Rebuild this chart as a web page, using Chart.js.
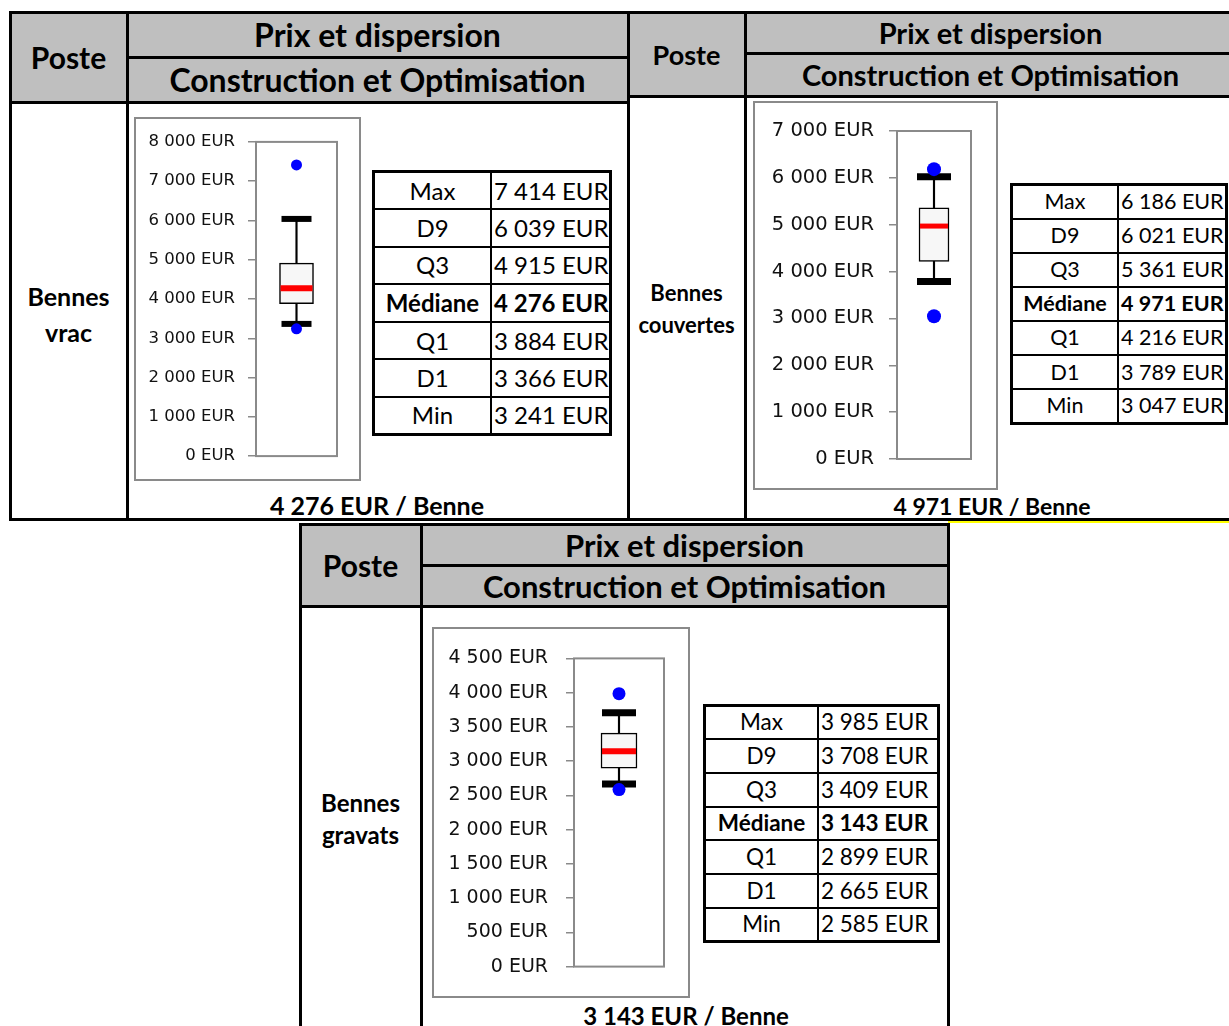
<!DOCTYPE html>
<html lang="fr">
<head>
<meta charset="utf-8">
<script src="https://cdn.jsdelivr.net/npm/chart.js@4.4.1/dist/chart.umd.min.js"></script>
<style>
  body { margin: 0; width: 1229px; height: 1026px; position: relative; overflow: hidden; background: #fff; font-family: Lato, 'Noto Sans', sans-serif; color: #000; }
  .txt { position: absolute; display: flex; align-items: center; justify-content: center; text-align: center; font-weight: bold; white-space: nowrap; }
  table.stats { position: absolute; border-collapse: collapse; table-layout: fixed; border: 3px solid #000; }
  table.stats td { border: 2px solid #000; padding: 0; line-height: 1; white-space: nowrap; overflow: hidden; }
  table.stats td:first-child { text-align: center; }
  table.stats td:last-child { text-align: left; padding-left: 2px; }
</style>
</head>
<body>
<script>
// Statistiques de prix par type de benne
const statLabels = ['Max', 'D9', 'Q3', 'Médiane', 'Q1', 'D1', 'Min'];
const posteNames = [['Bennes', 'vrac'], ['Bennes', 'couvertes'], ['Bennes', 'gravats']];
const vracValues = [7414, 6039, 4915, 4276, 3884, 3366, 3241];
const couvertesValues = [6186, 6021, 5361, 4971, 4216, 3789, 3047];
const gravatsValues = [3985, 3708, 3409, 3143, 2899, 2665, 2585];
const axisMax = [8000, 7000, 4500];
const axisStep = [1000, 1000, 500];
const headTitles = ['Poste', 'Prix et dispersion', 'Construction et Optimisation'];

// Mise en page de chaque bloc
const panels = [
  {
    l: 10, t: 12, r: 628, b: 519, colX: 127, r1: 57, r2: 102, head: [30, 32, 32],
    name: { cy: 314, size: 25, lh: 36 },
    chart: { x: 134, y: 117, w: 227, h: 364, plot: { l: 256, t: 139, r: 339, b: 459 },
             tick: 16.5, pad: 13, boxW: 34, capW: 30, capH: 6, medH: 6, dotR: 5.5 },
    table: { x: 372, y: 170, w: 240, h: 263, c1: 115, font: 24 },
    foot: { cx: 377, cy: 505, size: 25 }
  },
  {
    l: 628, t: 12, r: 1236, b: 519, colX: 745, r1: 53, r2: 96, head: [27, 29, 29],
    name: { cy: 309, size: 22, lh: 32 },
    chart: { x: 753, y: 101, w: 245, h: 389, plot: { l: 897, t: 131, r: 971, b: 459 },
             tick: 19.5, pad: 15, boxW: 30, capW: 34, capH: 7, medH: 5, dotR: 7 },
    table: { x: 1010, y: 183, w: 218, h: 239, c1: 104, font: 21.5 },
    foot: { cx: 992, cy: 506, size: 23 }
  },
  {
    l: 300, t: 524, r: 948, b: 1040, colX: 421, r1: 565, r2: 606, head: [30, 31, 31],
    name: { cy: 819, size: 24, lh: 32 },
    chart: { x: 432, y: 627, w: 258, h: 371, plot: { l: 574, t: 652, r: 665, b: 971 },
             tick: 19, pad: 18, boxW: 36, capW: 34, capH: 7, medH: 6, dotR: 6.5 },
    table: { x: 703, y: 704, w: 237, h: 236, c1: 111, font: 22.5 },
    foot: { cx: 686, cy: 1015, size: 24 }
  }
];
const panelValues = [vracValues, couvertesValues, gravatsValues];

function fmt(v) {
  return String(v).replace(/\B(?=(\d{3})+(?!\d))/g, ' ') + ' EUR';
}

function rect(x, y, w, h, css) {
  const d = document.createElement('div');
  d.style.cssText = `position:absolute;left:${x}px;top:${y}px;width:${w}px;height:${h}px;${css || ''}`;
  document.body.appendChild(d);
  return d;
}

function label(x, y, w, h, html, size, extra) {
  const d = rect(x, y, w, h, `font-size:${size}px;${extra || ''}`);
  d.className = 'txt';
  d.innerHTML = html;
  return d;
}

function hline(x1, x2, y) { rect(x1 - 1.5, y - 1.5, x2 - x1 + 3, 3, 'background:#000'); }
function vline(x, y1, y2) { rect(x - 1.5, y1 - 1.5, 3, y2 - y1 + 3, 'background:#000'); }

function drawFrame(p, i) {
  rect(p.l, p.t, p.r - p.l, p.r2 - p.t, 'background:#bfbfbf');
  hline(p.l, p.r, p.t);
  hline(p.l, p.r, p.b);
  hline(p.colX, p.r, p.r1);
  hline(p.l, p.r, p.r2);
  vline(p.l, p.t, p.b);
  vline(p.r, p.t, p.b);
  vline(p.colX, p.t, p.b);

  label(p.l, p.t, p.colX - p.l, p.r2 - p.t, headTitles[0], p.head[0]);
  label(p.colX, p.t, p.r - p.colX, p.r1 - p.t, headTitles[1], p.head[1]);
  label(p.colX, p.r1, p.r - p.colX, p.r2 - p.r1, headTitles[2], p.head[2]);

  const n = p.name;
  label(p.l, n.cy - n.lh, p.colX - p.l, n.lh * 2, posteNames[i].join('<br>'), n.size, `line-height:${n.lh}px`);

  const med = panelValues[i][3];
  label(p.foot.cx - 200, p.foot.cy - 16, 400, 32, fmt(med) + ' / Benne', p.foot.size);
}

function drawTable(t, values) {
  const table = document.createElement('table');
  table.className = 'stats';
  table.style.cssText = `left:${t.x}px;top:${t.y}px;width:${t.w}px;height:${t.h}px;font-size:${t.font}px`;
  statLabels.forEach((lab, k) => {
    const tr = table.insertRow();
    tr.style.height = (t.h / statLabels.length) + 'px';
    if (lab === 'Médiane') tr.style.fontWeight = 'bold';
    const a = tr.insertCell();
    a.style.width = t.c1 + 'px';
    a.textContent = lab;
    const b = tr.insertCell();
    b.textContent = fmt(values[k]);
  });
  document.body.appendChild(table);
}

// cadre gris de la zone de tracé
const plotFrame = {
  id: 'plotFrame',
  beforeDatasetsDraw(chart) {
    const a = chart.chartArea;
    const ctx = chart.ctx;
    ctx.save();
    ctx.strokeStyle = '#8a8a8a';
    ctx.lineWidth = 2;
    ctx.strokeRect(a.left, a.top, a.right - a.left, a.bottom - a.top);
    ctx.restore();
  }
};

function drawBoxPlot(c, values, yMax, yStep) {
  const [max, d9, q3, med, q1, d1, min] = values;
  const frame = rect(c.x, c.y, c.w, c.h, 'box-sizing:border-box;border:2px solid #8a8a8a;background:#fff');
  const canvas = document.createElement('canvas');
  canvas.width = c.w - 4;
  canvas.height = c.h - 4;
  canvas.style.display = 'block';
  frame.appendChild(canvas);
  const ox = c.x + 2, oy = c.y + 2;
  const cat = 'P';

  new Chart(canvas, {
    type: 'bar',
    data: {
      labels: [cat],
      datasets: [
        { // min / max
          type: 'line', data: [{ x: cat, y: max }, { x: cat, y: min }], showLine: false,
          pointStyle: 'circle', pointRadius: c.dotR, pointBackgroundColor: '#0000ff', pointBorderWidth: 0, order: 0
        },
        { // D9 / D1
          type: 'line', data: [{ x: cat, y: d9 }, { x: cat, y: d1 }], showLine: false,
          pointStyle: 'line', pointRadius: c.capW / 2, pointBorderColor: '#000', pointBorderWidth: c.capH, order: 1
        },
        { // médiane
          type: 'line', data: [{ x: cat, y: med }], showLine: false,
          pointStyle: 'line', pointRadius: c.boxW / 2 - 1, pointBorderColor: '#ff0000', pointBorderWidth: c.medH, order: 2
        },
        { // boîte Q1-Q3
          data: [[q1, q3]], backgroundColor: '#f7f7f7', borderColor: '#000', borderWidth: 1.5,
          borderSkipped: false, barThickness: c.boxW, grouped: false, order: 3
        },
        { // moustache D1-D9
          data: [[d1, d9]], backgroundColor: '#000', barThickness: 1.5, grouped: false, order: 4
        }
      ]
    },
    options: {
      responsive: false,
      animation: false,
      events: [],
      layout: {
        padding: { left: 0, top: c.plot.t - oy, bottom: (c.y + c.h - 2) - c.plot.b, right: (c.x + c.w - 2) - c.plot.r }
      },
      plugins: { legend: { display: false }, tooltip: { enabled: false } },
      scales: {
        x: { display: false },
        y: {
          min: 0,
          max: yMax,
          ticks: {
            stepSize: yStep,
            callback: v => fmt(v),
            color: '#111',
            padding: c.pad,
            font: { family: 'DejaVu Sans', size: c.tick }
          },
          grid: { drawOnChartArea: false, tickLength: 8, color: '#8a8a8a', lineWidth: 1.5 },
          border: { display: false },
          afterFit: s => { s.width = c.plot.l - ox; }
        }
      }
    },
    plugins: [plotFrame]
  });
}

panels.forEach((p, i) => {
  drawFrame(p, i);
  drawBoxPlot(p.chart, panelValues[i], axisMax[i], axisStep[i]);
  drawTable(p.table, panelValues[i]);
});

// filet jaune sous le bloc de droite
rect(948, 521, 281, 1.5, 'background:#ffff00');
</script>
</body>
</html>
